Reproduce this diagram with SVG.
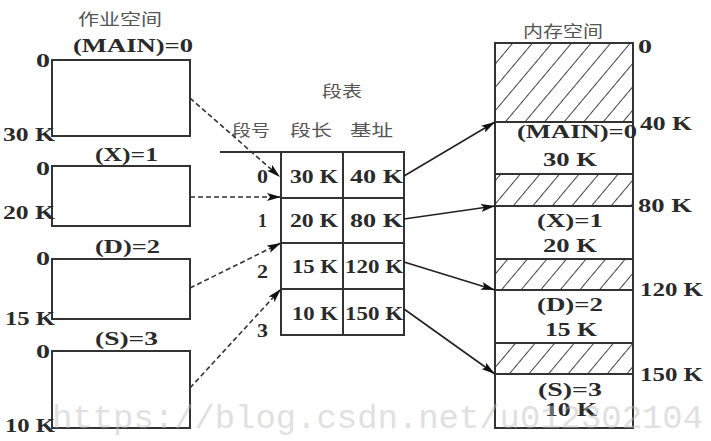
<svg xmlns="http://www.w3.org/2000/svg" width="711" height="441" viewBox="0 0 711 441">
<style>
.t{font-family:"Liberation Serif","Noto Sans CJK SC",serif;font-size:19px;font-weight:bold;fill:#2a2a2a;}
.c{font-family:"Noto Sans CJK SC","Liberation Serif",serif;font-size:16px;fill:#555;}
.box{fill:#fff;stroke:#333;stroke-width:2;}
.ln{stroke:#333;stroke-width:2;fill:none;}
.sol{stroke:#222;stroke-width:1.6;fill:none;marker-end:url(#ah);}
.dsh{stroke:#333;stroke-width:1.6;fill:none;stroke-dasharray:5 3;marker-end:url(#ah);}
.wm{font-family:"Liberation Mono",monospace;font-size:34px;fill:#bbb;opacity:0.45;}
</style>
<defs>
<marker id="ah" viewBox="0 0 14 8" refX="14" refY="4" markerWidth="14" markerHeight="8" markerUnits="userSpaceOnUse" orient="auto">
<path d="M0,0 L14,4 L0,8 L3,4 Z" fill="#111"/>
</marker>
<pattern id="hatch" patternUnits="userSpaceOnUse" width="15" height="15" patternTransform="rotate(40)">
<line x1="0" y1="0" x2="0" y2="15" stroke="#222" stroke-width="1.7"/>
</pattern>
</defs>
<rect width="711" height="441" fill="#fff"/>

<text class="c" x="78" y="25" textLength="84" lengthAdjust="spacingAndGlyphs">作业空间</text>

<g id="seg-main">
<text class="t" x="73" y="52" textLength="120" lengthAdjust="spacingAndGlyphs">(MAIN)=0</text>
<rect class="box" x="52" y="60" width="138" height="76"/>
<text class="t" x="36" y="67" textLength="14" lengthAdjust="spacingAndGlyphs">0</text>
<text class="t" x="3" y="141" textLength="52" lengthAdjust="spacingAndGlyphs">30 K</text>
</g>
<g id="seg-x">
<text class="t" x="95" y="161" textLength="63" lengthAdjust="spacingAndGlyphs">(X)=1</text>
<rect class="box" x="52" y="166" width="138" height="60"/>
<text class="t" x="36" y="175" textLength="14" lengthAdjust="spacingAndGlyphs">0</text>
<text class="t" x="3" y="219" textLength="52" lengthAdjust="spacingAndGlyphs">20 K</text>
</g>
<g id="seg-d">
<text class="t" x="95" y="253" textLength="65" lengthAdjust="spacingAndGlyphs">(D)=2</text>
<rect class="box" x="52" y="259" width="138" height="60"/>
<text class="t" x="36" y="265" textLength="14" lengthAdjust="spacingAndGlyphs">0</text>
<text class="t" x="5" y="325" textLength="50" lengthAdjust="spacingAndGlyphs">15 K</text>
</g>
<g id="seg-s">
<text class="t" x="95" y="345" textLength="63" lengthAdjust="spacingAndGlyphs">(S)=3</text>
<rect class="box" x="52" y="351" width="138" height="77"/>
<text class="t" x="36" y="358" textLength="14" lengthAdjust="spacingAndGlyphs">0</text>
<text class="t" x="5" y="432" textLength="50" lengthAdjust="spacingAndGlyphs">10 K</text>
</g>

<g id="segment-table">
<text class="c" x="322" y="97" textLength="40" lengthAdjust="spacingAndGlyphs">段表</text>
<text class="c" x="232" y="136" textLength="38" lengthAdjust="spacingAndGlyphs">段号</text>
<text class="c" x="290" y="136" textLength="42" lengthAdjust="spacingAndGlyphs">段长</text>
<text class="c" x="350" y="136" textLength="43" lengthAdjust="spacingAndGlyphs">基址</text>
<line class="ln" x1="220" y1="152" x2="404" y2="152"/>
<rect class="ln" x="281" y="152" width="123" height="183"/>
<line class="ln" x1="343" y1="152" x2="343" y2="335"/>
<line class="ln" x1="281" y1="198" x2="404" y2="198"/>
<line class="ln" x1="281" y1="243" x2="404" y2="243"/>
<line class="ln" x1="281" y1="289" x2="404" y2="289"/>
<text class="t" x="257" y="183" textLength="11" lengthAdjust="spacingAndGlyphs">0</text>
<text class="t" x="258" y="227" textLength="9" lengthAdjust="spacingAndGlyphs">1</text>
<text class="t" x="257" y="278" textLength="11" lengthAdjust="spacingAndGlyphs">2</text>
<text class="t" x="257" y="337" textLength="11" lengthAdjust="spacingAndGlyphs">3</text>
<text class="t" x="290" y="183" textLength="48" lengthAdjust="spacingAndGlyphs">30 K</text>
<text class="t" x="350" y="183" textLength="53" lengthAdjust="spacingAndGlyphs">40 K</text>
<text class="t" x="290" y="227" textLength="48" lengthAdjust="spacingAndGlyphs">20 K</text>
<text class="t" x="350" y="227" textLength="53" lengthAdjust="spacingAndGlyphs">80 K</text>
<text class="t" x="292" y="273" textLength="46" lengthAdjust="spacingAndGlyphs">15 K</text>
<text class="t" x="345" y="273" textLength="58" lengthAdjust="spacingAndGlyphs">120 K</text>
<text class="t" x="292" y="320" textLength="46" lengthAdjust="spacingAndGlyphs">10 K</text>
<text class="t" x="345" y="320" textLength="58" lengthAdjust="spacingAndGlyphs">150 K</text>
</g>

<g id="memory">
<text class="c" x="523" y="37" textLength="80" lengthAdjust="spacingAndGlyphs">内存空间</text>
<rect x="495" y="43" width="138" height="79" fill="url(#hatch)"/>
<rect x="495" y="174" width="138" height="32" fill="url(#hatch)"/>
<rect x="495" y="259" width="138" height="31" fill="url(#hatch)"/>
<rect x="495" y="343" width="138" height="31" fill="url(#hatch)"/>
<rect class="ln" x="495" y="43" width="138" height="385"/>
<line class="ln" x1="495" y1="122" x2="633" y2="122"/>
<line class="ln" x1="495" y1="174" x2="633" y2="174"/>
<line class="ln" x1="495" y1="206" x2="633" y2="206"/>
<line class="ln" x1="495" y1="259" x2="633" y2="259"/>
<line class="ln" x1="495" y1="290" x2="633" y2="290"/>
<line class="ln" x1="495" y1="343" x2="633" y2="343"/>
<line class="ln" x1="495" y1="374" x2="633" y2="374"/>
<text class="t" x="638" y="53" textLength="14" lengthAdjust="spacingAndGlyphs">0</text>
<text class="t" x="640" y="130" textLength="52" lengthAdjust="spacingAndGlyphs">40 K</text>
<text class="t" x="638" y="212" textLength="54" lengthAdjust="spacingAndGlyphs">80 K</text>
<text class="t" x="640" y="296" textLength="63" lengthAdjust="spacingAndGlyphs">120 K</text>
<text class="t" x="640" y="381" textLength="63" lengthAdjust="spacingAndGlyphs">150 K</text>
<text class="t" x="517" y="138" textLength="120" lengthAdjust="spacingAndGlyphs">(MAIN)=0</text>
<text class="t" x="543" y="166" textLength="54" lengthAdjust="spacingAndGlyphs">30 K</text>
<text class="t" x="537" y="227" textLength="66" lengthAdjust="spacingAndGlyphs">(X)=1</text>
<text class="t" x="543" y="252" textLength="54" lengthAdjust="spacingAndGlyphs">20 K</text>
<text class="t" x="537" y="311" textLength="66" lengthAdjust="spacingAndGlyphs">(D)=2</text>
<text class="t" x="545" y="336" textLength="52" lengthAdjust="spacingAndGlyphs">15 K</text>
<text class="t" x="538" y="396" textLength="64" lengthAdjust="spacingAndGlyphs">(S)=3</text>
<text class="t" x="545" y="416" textLength="52" lengthAdjust="spacingAndGlyphs">10 K</text>
</g>

<g id="connectors">
<line class="dsh" x1="190" y1="98" x2="280" y2="177"/>
<line class="dsh" x1="190" y1="197" x2="281" y2="197"/>
<line class="dsh" x1="190" y1="288" x2="281" y2="243"/>
<line class="dsh" x1="190" y1="388" x2="281" y2="289"/>
<line class="sol" x1="404" y1="176" x2="495" y2="122"/>
<line class="sol" x1="404" y1="219" x2="495" y2="206"/>
<line class="sol" x1="404" y1="262" x2="495" y2="290"/>
<line class="sol" x1="404" y1="309" x2="495" y2="374"/>
</g>

<text class="wm" x="52" y="428" textLength="651" lengthAdjust="spacingAndGlyphs">https://blog.csdn.net/u012302104</text>
</svg>
